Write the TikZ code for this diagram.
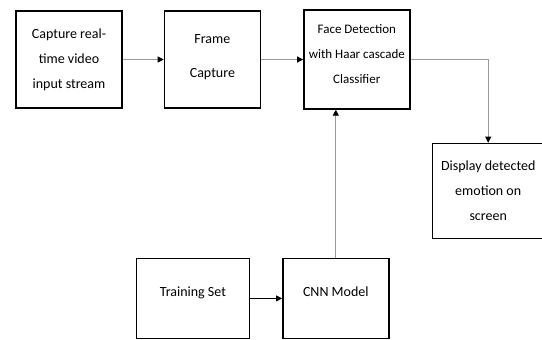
\documentclass[tikz,border=0pt]{standalone}
\usepackage{fontspec}
\setmainfont{Carlito}
\usepackage{tikz}
\usetikzlibrary{arrows.meta,positioning}

\begin{document}
\begin{tikzpicture}[
    node distance=41bp,
    box/.style={rectangle, draw, line width=1.4bp, align=center, inner sep=2bp,
        font=\fontsize{14bp}{25bp}\selectfont},
    arrow/.style={draw=gray!80, line width=0.8bp, -{Triangle[length=6bp,width=6bp,black]}},
    darrow/.style={draw=black, line width=0.8bp, -{Triangle[length=6bp,width=6bp,black]}}
]
\useasboundingbox (0,0) rectangle (542bp,-340bp);

% Top row
\node[box, minimum width=106bp, minimum height=97bp] (cap) at (69bp,-59.5bp) {Capture real-\\time video\\input stream};
\node[box, minimum width=96bp, minimum height=97bp, text depth=6bp, font=\fontsize{14bp}{34bp}\selectfont, right=41bp of cap] (frame) {Frame\\Capture};
\node[box, minimum width=106bp, minimum height=99bp, text depth=10bp, font=\fontsize{13bp}{25bp}\selectfont, right=42bp of frame] (face) {Face Detection\\with Haar cascade\\Classifier};

% Output
\node[box, minimum width=112bp, minimum height=95bp, below right=33bp and 21bp of face.south east, anchor=north west] (disp) {Display detected\\emotion on\\screen};

% Training path
\node[box, minimum width=106bp, minimum height=80bp, text depth=14bp, below=148bp of face, xshift=-21bp] (cnn) {CNN Model};
\node[box, minimum width=113bp, minimum height=80bp, text depth=14bp, left=32bp of cnn] (train) {Training Set};

% Arrows
\draw[arrow] (cap.east) -- (cap.east -| frame.west);
\draw[arrow] (frame.east) -- (frame.east -| face.west);
\draw[arrow] (face.east) -| (disp.north);
\draw[arrow] (cnn.north) -- (cnn.north |- face.south);
\draw[darrow] (train.east) -- (cnn.west);

\end{tikzpicture}
\end{document}
